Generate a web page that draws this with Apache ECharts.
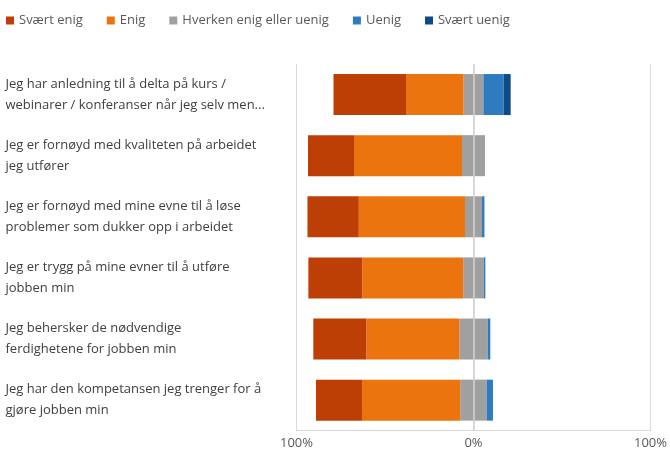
<!DOCTYPE html>
<html>
<head>
<meta charset="utf-8">
<script src="https://cdn.jsdelivr.net/npm/echarts@6/dist/echarts.min.js"></script>
<style>html,body{margin:0;padding:0;background:#fff}#c{width:670px;height:450px}</style>
</head>
<body>
<div id="c"></div>
<script>
var categories = [
  "Jeg har anledning til å delta på kurs /\nwebinarer / konferanser når jeg selv men...",
  "Jeg er fornøyd med kvaliteten på arbeidet\njeg utfører",
  "Jeg er fornøyd med mine evne til å løse\nproblemer som dukker opp i arbeidet",
  "Jeg er trygg på mine evner til å utføre\njobben min",
  "Jeg behersker de nødvendige\nferdighetene for jobben min",
  "Jeg har den kompetansen jeg trenger for å\ngjøre jobben min"
];
var seriesNames = ["Svært enig", "Enig", "Hverken enig eller uenig", "Uenig", "Svært uenig"];
var sveartEnig = [41, 26, 29, 30.5, 30, 26];
var enig = [32.5, 61, 60, 57, 52.5, 55.5];
var hverken = [11.2, 13, 9.6, 11.6, 16, 15];
var uenig = [11.4, 0, 1.4, 0.9, 1.5, 3.5];
var svaertUenig = [4, 0, 0, 0, 0, 0];
var tickLabels = { "-100": "100%", "0": "0%", "100": "100%" };

var colors = {
  "Svært enig": "#BE3F05",
  "Enig": "#EC740E",
  "Hverken enig eller uenig": "#A0A0A0",
  "Uenig": "#2E7BBF",
  "Svært uenig": "#0C4A88"
};

function neg(a){ return a.map(function(v){ return -v; }); }
function half(a, s){ return a.map(function(v){ return s * v / 2; }); }

var fontFamily = "'Open Sans', 'Noto Sans', sans-serif";

function bar(name, data, extra){
  var s = {
    name: name, type: 'bar', stack: 'total', data: data,
    barWidth: 41,
    itemStyle: { color: colors[name] },
    emphasis: { disabled: true }
  };
  if (extra) for (var k in extra) s[k] = extra[k];
  return s;
}

var chart = echarts.init(document.getElementById('c'), null, { renderer: 'canvas' });
chart.setOption({
  animation: false,
  backgroundColor: '#ffffff',
  legend: {
    data: seriesNames,
    left: 1, top: 9,
    itemWidth: 8, itemHeight: 8, itemGap: 24,
    icon: 'rect',
    textStyle: { color: '#595959', fontSize: 13, fontFamily: fontFamily },
    selectedMode: false
  },
  grid: { left: 296.5, right: 18.3, top: 64, bottom: 19.3, containLabel: false },
  xAxis: {
    type: 'value', min: -100, max: 100, interval: 100,
    axisLine: { show: true, lineStyle: { color: '#D9D9D9', width: 1 } },
    axisTick: { show: false },
    splitLine: { show: true, lineStyle: { color: '#D9D9D9', width: 1 } },
    axisLabel: {
      color: '#595959', fontSize: 13, fontFamily: fontFamily, margin: 6,
      formatter: function(v){ return tickLabels[String(v)]; }
    }
  },
  yAxis: {
    type: 'category', data: categories, inverse: true,
    axisLine: { show: false }, axisTick: { show: false },
    axisLabel: {
      align: 'left', margin: 291, color: '#404040', fontSize: 13,
      lineHeight: 21, fontFamily: fontFamily
    }
  },
  series: [
    bar("Hverken enig eller uenig", half(hverken, -1), {
      markLine: { silent: true, symbol: 'none', label: { show: false },
        lineStyle: { color: '#D0D0D0', type: 'solid', width: 1.5 },
        data: [{ xAxis: 0 }] }
    }),
    bar("Hverken enig eller uenig", half(hverken, 1)),
    bar("Enig", neg(enig)),
    bar("Uenig", uenig),
    bar("Svært enig", neg(sveartEnig)),
    bar("Svært uenig", svaertUenig)
  ]
});
</script>
</body>
</html>
